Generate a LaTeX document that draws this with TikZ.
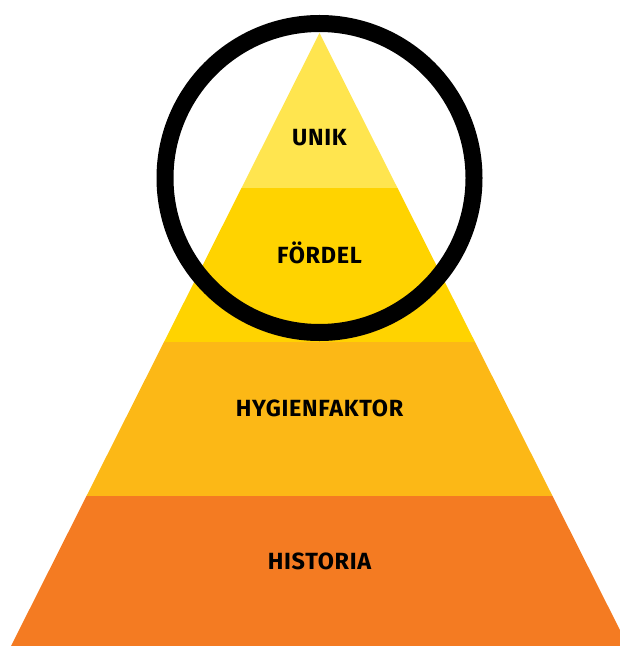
\documentclass[tikz,border=0pt]{standalone}
\usepackage{fontspec}
\newfontfamily\lagerfont[LetterSpace=3]{Fira Sans}
\definecolor{unikgul}{HTML}{FFE54F}
\definecolor{fordelgul}{HTML}{FFD300}
\definecolor{hygienorange}{HTML}{FCB816}
\definecolor{historiaorange}{HTML}{F47B22}
\begin{document}
\begin{tikzpicture}[x=1bp, y=-1bp, font=\lagerfont\bfseries\fontsize{23.5}{23.5}\selectfont, line join=round, line cap=round]
	\useasboundingbox (0,0) rectangle (620,646);
	\clip (0,0) rectangle (620,646);
	\begin{scope}
		\clip (319.5,33) -- (11,646) -- (628,646) -- cycle;
		\fill[unikgul] (0,0) rectangle (640,188);
		\fill[fordelgul] (0,188) rectangle (640,342);
		\fill[hygienorange] (0,342) rectangle (640,496);
		\fill[historiaorange] (0,496) rectangle (640,650);
	\end{scope}
	\node (unik) at (319.5,138) {UNIK};
	\node (fordel) at (319.5,253) {FÖRDEL};
	\node (hygien) at (319.5,408) {HYGIENFAKTOR};
	\node (historia) at (319.5,561) {HISTORIA};
	\draw[line width=17bp] (319.5,178) circle (154.5);
\end{tikzpicture}
\end{document}
